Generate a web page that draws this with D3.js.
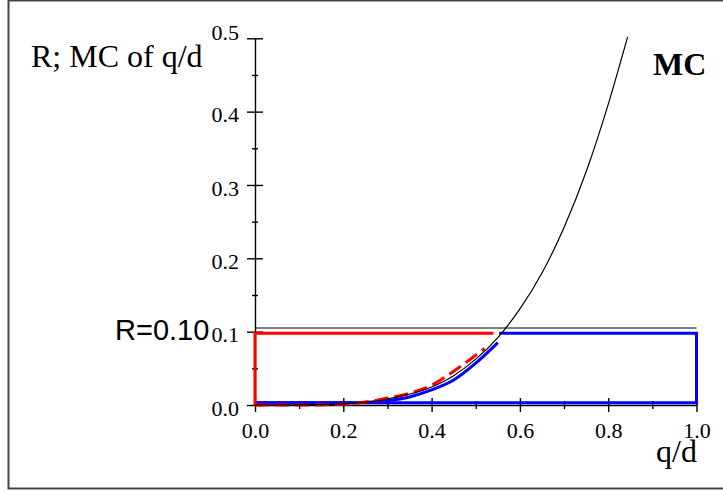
<!DOCTYPE html>
<html>
<head>
<meta charset="utf-8">
<script src="https://cdn.jsdelivr.net/npm/d3@7"></script>
<style>
  body { margin: 0; background: #fff; }
  svg { display: block; }
</style>
</head>
<body>
<div id="chart"></div>
<script>
// values
const mcQ = [0, 0.1, 0.2, 0.3, 0.4, 0.45, 0.5, 0.55, 0.6, 0.65, 0.7, 0.75, 0.8, 0.844];
const mcV = [0, 0.0001, 0.0016, 0.0082, 0.0245, 0.04, 0.0625, 0.092, 0.131, 0.18, 0.242, 0.318, 0.41, 0.502];

const blueCurveQ = [0, 0.1, 0.2, 0.25, 0.3, 0.35, 0.4, 0.45, 0.5, 0.55];
const blueCurveV = [0.003, 0.003, 0.003, 0.0035, 0.006, 0.011, 0.0205, 0.034, 0.057, 0.085];

const redCurveQ = [0, 0.1, 0.2, 0.25, 0.3, 0.35, 0.4, 0.45, 0.5, 0.52];
const redCurveV = [0, 0, 0.001, 0.004, 0.0095, 0.016, 0.027, 0.046, 0.068, 0.077];

const redStepQ = [0, 0, 0.54];
const redStepV = [0, 0.098, 0.098];
const blueStepQ = [0.553, 1, 1, 0];
const blueStepV = [0.098, 0.098, 0.003, 0.003];
const rLineQ = [0, 1];
const rLineV = [0.105, 0.105];

const xTicks = [0, 0.2, 0.4, 0.6, 0.8, 1.0];
const xMinor = [0.1, 0.3, 0.5, 0.7, 0.9];
const yTicks = [0, 0.1, 0.2, 0.3, 0.4, 0.5];
const yMinor = [0.05, 0.15, 0.25, 0.35, 0.45];

const W = 723, H = 492;
const serif = '"Liberation Serif", "Times New Roman", serif';

const svg = d3.select('#chart').append('svg')
    .attr('width', W)
    .attr('height', H);

// outer frame
svg.append('rect')
    .attr('x', 8.5).attr('y', 0.5)
    .attr('width', 730).attr('height', 488)
    .attr('fill', 'none')
    .attr('stroke', '#444')
    .attr('stroke-width', 2);

const x = d3.scaleLinear().domain([0, 1]).range([255, 696.5]);
const y = d3.scaleLinear().domain([0, 0.5]).range([405, 38.3]);

const zip = (qs, vs) => qs.map((q, i) => [q, vs[i]]);
const line = d3.line().x(d => x(d[0])).y(d => y(d[1]));
const smooth = d3.line().x(d => x(d[0])).y(d => y(d[1])).curve(d3.curveMonotoneX);

// y axis
const yAxis = svg.append('g').attr('transform', `translate(${x(0)},0)`)
    .call(d3.axisLeft(y).tickValues(yTicks).tickSizeOuter(0).tickSizeInner(8).tickPadding(8)
        .tickFormat(d3.format('.1f')));
yAxis.selectAll('.tick line').attr('x2', 8).attr('x1', -8);
yAxis.selectAll('.tick text')
    .attr('font-family', serif).attr('font-size', 22).attr('fill', '#000')
    .attr('dy', d => d === 0.5 ? '0.05em' : '0.46em');
svg.append('g').attr('transform', `translate(${x(0)},0)`)
    .call(d3.axisLeft(y).tickValues(yMinor).tickSizeOuter(0).tickSize(3).tickFormat(''))
    .call(g => g.select('.domain').remove())
    .selectAll('.tick line').attr('x1', 3);

// x axis
const xAxis = svg.append('g').attr('transform', `translate(0,${y(0)})`)
    .call(d3.axisBottom(x).tickValues(xTicks).tickSizeOuter(0).tickSizeInner(7).tickPadding(10)
        .tickFormat(d3.format('.1f')));
xAxis.selectAll('.tick line').attr('y1', -7);
xAxis.selectAll('.tick text')
    .attr('font-family', serif).attr('font-size', 22).attr('fill', '#000');
svg.append('g').attr('transform', `translate(0,${y(0)})`)
    .call(d3.axisBottom(x).tickValues(xMinor).tickSizeOuter(0).tickSize(4).tickFormat(''))
    .call(g => g.select('.domain').remove())
    .selectAll('.tick line').attr('y1', -4);

svg.selectAll('.domain, .tick line').attr('stroke', '#000').attr('stroke-width', 1.4);

// lines
svg.append('path').attr('d', line(zip(rLineQ, rLineV)))
    .attr('fill', 'none').attr('stroke', '#000').attr('stroke-width', 1.2);

svg.append('path').attr('d', line(zip(blueStepQ, blueStepV)))
    .attr('fill', 'none').attr('stroke', '#0000ff').attr('stroke-width', 3);
svg.append('path').attr('d', smooth(zip(blueCurveQ, blueCurveV)))
    .attr('fill', 'none').attr('stroke', '#0000ff').attr('stroke-width', 3);

svg.append('path').attr('d', line(zip(redStepQ, redStepV)))
    .attr('fill', 'none').attr('stroke', '#ff0000').attr('stroke-width', 3);
svg.append('path').attr('d', smooth(zip(redCurveQ, redCurveV)))
    .attr('fill', 'none').attr('stroke', '#ff0000').attr('stroke-width', 3)
    .attr('stroke-dasharray', '14,6');

svg.append('path').attr('d', smooth(zip(mcQ, mcV)))
    .attr('fill', 'none').attr('stroke', '#000').attr('stroke-width', 1.2);

// labels
svg.append('text').attr('x', 31).attr('y', 67)
    .attr('font-family', serif).attr('font-size', 32).text('R; MC of q/d');
svg.append('text').attr('x', 653).attr('y', 75)
    .attr('font-family', serif).attr('font-size', 32).attr('font-weight', 'bold').text('MC');
svg.append('text').attr('x', 115).attr('y', 340)
    .attr('font-family', '"Liberation Sans", Arial, sans-serif').attr('font-size', 29).text('R=0.10');
svg.append('text').attr('x', 656).attr('y', 462)
    .attr('font-family', serif).attr('font-size', 32).text('q/d');
</script>
</body>
</html>
